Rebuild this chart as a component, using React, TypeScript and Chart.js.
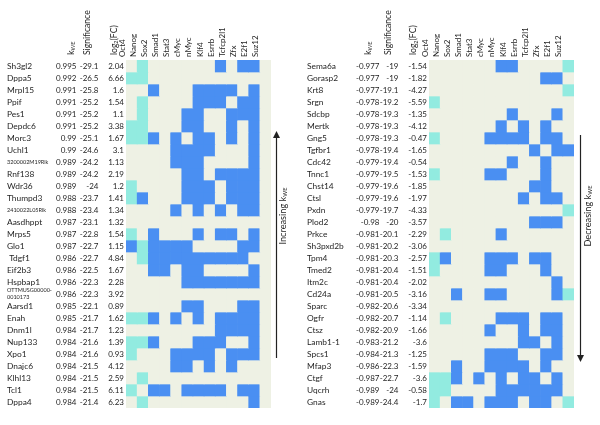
import React, { useEffect, useRef } from "react";
import { Chart, registerables } from "chart.js";

Chart.register(...registerables);

const TFS = ["Oct4", "Nanog", "Sox2", "Smad1", "Stat3", "cMyc", "nMyc", "Klf4", "Esrrb", "Tcfcp2l1", "Zfx", "E2f1", "Suz12"];

const leftGenes = ["Sh3gl2", "Dppa5", "Mrpl15", "Ppif", "Pes1", "Depdc6", "Morc3", "Uchl1", "3200002M19Rik", "Rnf138", "Wdr36", "Thumpd3", "2410022L05Rik", "Aasdhppt", "Mrps5", "Glo1", " Tdgf1", "Eif2b3", "Hspbap1", "OTTMUSG00000-0010173", "Aarsd1", "Enah", "Dnm1l", "Nup133", "Xpo1", "Dnajc6", "Klhl13", "Tcl1", "Dppa4"];
const leftK = [0.995, 0.992, 0.991, 0.991, 0.991, 0.991, 0.99, 0.99, 0.989, 0.989, 0.989, 0.988, 0.988, 0.987, 0.987, 0.987, 0.986, 0.986, 0.986, 0.986, 0.985, 0.985, 0.984, 0.984, 0.984, 0.984, 0.984, 0.984, 0.984];
const leftSig = [-29.1, -26.5, -25.8, -25.2, -25.2, -25.2, -25.1, -24.6, -24.2, -24.2, -24, -23.7, -23.4, -23.1, -22.8, -22.7, -22.7, -22.5, -22.3, -22.3, -22.1, -21.7, -21.7, -21.6, -21.6, -21.5, -21.5, -21.5, -21.4];
const leftFC = [2.04, 6.66, 1.6, 1.54, 1.1, 3.38, 1.67, 3.1, 1.13, 2.19, 1.2, 1.41, 1.34, 1.32, 1.54, 1.15, 4.84, 1.67, 2.28, 3.92, 0.89, 1.62, 1.23, 1.39, 0.93, 4.12, 2.59, 6.11, 6.23];
// B = blue, C = cyan, . = none ; columns follow TFS
const leftCells = [
  ".C......B.BB.",
  "CC...........",
  "..B...BBBB.B.",
  ".C....BBB.BB.",
  ".C...BB..BBB.",
  "CC...BB..B.B.",
  "CCB.B.BB.B.B.",
  "....BBBB...B.",
  "....BBB....B.",
  ".....BB.BBBB.",
  "C....BBB.BBB.",
  "CB...BBB.BBB.",
  "....B.B.B.BB.",
  ".............",
  "C.B...B.BB.B.",
  "BCBBBB....BB.",
  ".CBBBBBBBBB..",
  "..BB.BB....B.",
  ".....BBBBBBB.",
  ".............",
  ".....BB...BB.",
  "CCB.B.B.BBBB.",
  "........BBBB.",
  "CCB...BBB..B.",
  "C...BBBB.BBB.",
  "....BB.B.B...",
  ".C...........",
  "C.BB.BBBB.BB.",
  ".C.........B.",
];

const rightGenes = ["Sema6a", "Gorasp2", "Krt8", "Srgn", "Sdcbp", "Mertk", "Gng5", "Tgfbr1", "Cdc42", "Tnnc1", "Chst14", "Ctsl", "Pxdn", "Plod2", "Prkce", "Sh3pxd2b", "Tpm4", "Tmed2", "Itm2c", "Cd24a", "Sparc", "Ogfr", "Ctsz", "Lamb1-1", "Spcs1", "Mfap3", "Ctgf", "Uqcrh", "Gnas"];
const rightK = [-0.977, -0.977, -0.977, -0.978, -0.978, -0.978, -0.978, -0.978, -0.979, -0.979, -0.979, -0.979, -0.979, -0.98, -0.981, -0.981, -0.981, -0.981, -0.981, -0.981, -0.982, -0.982, -0.982, -0.983, -0.984, -0.986, -0.987, -0.989, -0.989];
const rightSig = [-19, -19, -19.1, -19.2, -19.3, -19.3, -19.3, -19.4, -19.4, -19.5, -19.6, -19.6, -19.7, -20, -20.1, -20.2, -20.3, -20.4, -20.4, -20.5, -20.6, -20.7, -20.9, -21.2, -21.3, -22.3, -22.7, -24, -24.4];
const rightFC = [-1.54, -1.82, -4.27, -5.59, -1.35, -4.12, -0.47, -1.65, -0.54, -1.53, -1.85, -1.97, -4.33, -3.57, -2.29, -3.06, -2.57, -1.51, -2.02, -3.16, -3.34, -1.14, -1.66, -3.6, -1.25, -1.59, -3.6, -0.58, -1.7];
const rightCells = [
  "......BB....C",
  "..........BB.",
  "............C",
  "C............",
  ".......B...B.",
  "......B.B.B..",
  "C....BBBB.BB.",
  ".........B.BB",
  ".......B..B..",
  "C....BB...B..",
  ".........BB..",
  "........B.BB.",
  "............C",
  ".........BBB.",
  ".C....B......",
  ".............",
  "CB...BBB.BB..",
  "C....BB...B..",
  "...........B.",
  "..B..BB....BC",
  ".............",
  ".C....BBB.BB.",
  ".....B..B.BB.",
  "........BB.B.",
  ".....BBB..BB.",
  "..B..BBBB.B..",
  "CCB.B.B.BB.B.",
  "CC....BBBBBB.",
  "C.BB.BBB.BB.C",
];

const COLORS: Record<string, string> = { ".": "#EEF1E4", B: "#4A8FF2", C: "#92EBE0" };
const FONT = "Lato, 'Liberation Sans', sans-serif";
const INK = "#1f1f1f";
const NUM_SIZE = 8;
const NAME_SIZE = 8.4;

type Part = [string, number, number];

function partsWidth(ctx: CanvasRenderingContext2D, parts: Part[]) {
  let w = 0;
  for (const [t, size] of parts) {
    ctx.font = `${size}px ${FONT}`;
    w += ctx.measureText(t).width;
  }
  return w;
}

function drawParts(ctx: CanvasRenderingContext2D, x: number, y: number, parts: Part[]) {
  ctx.save();
  ctx.translate(x, y);
  ctx.rotate(-Math.PI / 2);
  ctx.textAlign = "left";
  ctx.textBaseline = "middle";
  ctx.fillStyle = INK;
  let cx = 0;
  for (const [t, size, dy] of parts) {
    ctx.font = `${size}px ${FONT}`;
    ctx.fillText(t, cx, dy);
    cx += ctx.measureText(t).width;
  }
  ctx.restore();
}

type PanelCfg = {
  genes: string[];
  k: number[];
  sig: number[];
  fc: number[];
  cells: string[];
  padLeft: number;
  padRight: number;
  nameX: number;
  kX: number;
  sigX: number;
  fcX: number;
  hK: number;
  hSig: number;
  hFC: number;
  arrowX: number;
  arrowTop: number;
  arrowBottom: number;
  arrowUp: boolean;
  arrowText: string;
  arrowTextX: number;
};

const LEFT: PanelCfg = {
  genes: leftGenes, k: leftK, sig: leftSig, fc: leftFC, cells: leftCells,
  padLeft: 126, padRight: 29,
  nameX: 7, kX: 76.5, sigX: 98.5, fcX: 124,
  hK: 71, hSig: 87.5, hFC: 114,
  arrowX: 276.5, arrowTop: 131, arrowBottom: 358, arrowUp: true,
  arrowText: "Increasing k", arrowTextX: 283,
};

const RIGHT: PanelCfg = {
  genes: rightGenes, k: rightK, sig: rightSig, fc: rightFC, cells: rightCells,
  padLeft: 129, padRight: 26,
  nameX: 7, kX: 79.5, sigX: 98.5, fcX: 127,
  hK: 68, hSig: 88.5, hFC: 113.5,
  arrowX: 280.5, arrowTop: 135, arrowBottom: 362, arrowUp: false,
  arrowText: "Decreasing k", arrowTextX: 288,
};

function makePlugin(cfg: PanelCfg) {
  return {
    id: "tableText",
    afterDraw(chart: any) {
      const ctx: CanvasRenderingContext2D = chart.ctx;
      const ys = chart.scales.y;
      ctx.save();
      ctx.fillStyle = INK;
      ctx.textBaseline = "middle";
      cfg.genes.forEach((g, r) => {
        const yc = ys.getPixelForValue(r + 0.5);
        ctx.textAlign = "left";
        if (g.length > 15 && g.includes("-")) {
          const i = g.indexOf("-") + 1;
          ctx.font = `5.5px ${FONT}`;
          ctx.fillText(g.slice(0, i), cfg.nameX, yc - 3.3);
          ctx.fillText(g.slice(i), cfg.nameX, yc + 3.3);
        } else if (g.length >= 13) {
          ctx.font = `5.5px ${FONT}`;
          ctx.fillText(g, cfg.nameX, yc);
        } else {
          ctx.font = `${NAME_SIZE}px ${FONT}`;
          ctx.fillText(g, cfg.nameX, yc);
        }
        ctx.font = `${NUM_SIZE}px ${FONT}`;
        ctx.textAlign = "right";
        ctx.fillText(String(cfg.k[r]), cfg.kX, yc);
        ctx.fillText(String(cfg.sig[r]), cfg.sigX, yc);
        ctx.fillText(String(cfg.fc[r]), cfg.fcX, yc);
      });
      ctx.restore();

      const headBottom = 55;
      drawParts(ctx, cfg.hK, headBottom, [["k", 9, 0], ["WE", 5.5, 2.5]]);
      drawParts(ctx, cfg.hSig, headBottom, [["Significance", 8.6, 0]]);
      drawParts(ctx, cfg.hFC, headBottom, [["log", 8.6, 0], ["2", 5.5, 2.5], ["(FC)", 8.6, 0]]);

      ctx.save();
      ctx.strokeStyle = "#222";
      ctx.fillStyle = "#222";
      ctx.lineWidth = 1.2;
      ctx.beginPath();
      ctx.moveTo(cfg.arrowX, cfg.arrowTop + (cfg.arrowUp ? 4 : 0));
      ctx.lineTo(cfg.arrowX, cfg.arrowBottom - (cfg.arrowUp ? 0 : 4));
      ctx.stroke();
      ctx.beginPath();
      if (cfg.arrowUp) {
        ctx.moveTo(cfg.arrowX, cfg.arrowTop);
        ctx.lineTo(cfg.arrowX - 3.5, cfg.arrowTop + 7);
        ctx.lineTo(cfg.arrowX + 3.5, cfg.arrowTop + 7);
      } else {
        ctx.moveTo(cfg.arrowX, cfg.arrowBottom);
        ctx.lineTo(cfg.arrowX - 3.5, cfg.arrowBottom - 7);
        ctx.lineTo(cfg.arrowX + 3.5, cfg.arrowBottom - 7);
      }
      ctx.closePath();
      ctx.fill();
      ctx.restore();

      const parts: Part[] = [[cfg.arrowText, 9.2, 0], ["WE", 5.8, 2.5]];
      const w = partsWidth(ctx, parts);
      const mid = (ys.getPixelForValue(0) + ys.getPixelForValue(29)) / 2 - 18;
      drawParts(ctx, cfg.arrowTextX, mid + w / 2, parts);
    },
  };
}

function buildConfig(cfg: PanelCfg): any {
  return {
    type: "bar",
    data: {
      labels: TFS,
      datasets: cfg.cells.map((row, r) => ({
        label: cfg.genes[r],
        data: TFS.map(() => 1),
        backgroundColor: row.split("").map((c) => COLORS[c]),
        borderWidth: 0,
        barPercentage: 1,
        categoryPercentage: 1,
      })),
    },
    options: {
      responsive: false,
      animation: false,
      events: [],
      layout: { padding: { left: cfg.padLeft, right: cfg.padRight, top: 0, bottom: 17 } },
      plugins: { legend: { display: false }, tooltip: { enabled: false } },
      scales: {
        x: {
          position: "top",
          stacked: true,
          grid: { display: false, drawTicks: false },
          border: { display: false },
          ticks: {
            minRotation: 90,
            maxRotation: 90,
            autoSkip: false,
            padding: 3,
            color: INK,
            font: { family: FONT, size: 8 },
          },
          afterFit: (s: any) => {
            s.height = 60;
          },
        },
        y: { display: false, stacked: true, reverse: true, min: 0, max: 29 },
      },
    },
    plugins: [makePlugin(cfg)],
  };
}

function Panel({ cfg, left }: { cfg: PanelCfg; left: number }) {
  const ref = useRef<HTMLCanvasElement | null>(null);
  useEffect(() => {
    const chart = new Chart(ref.current as HTMLCanvasElement, buildConfig(cfg));
    return () => chart.destroy();
  }, []);
  return (
    <canvas
      ref={ref}
      width={300}
      height={425}
      style={{ position: "absolute", left, top: 0, width: 300, height: 425 }}
    />
  );
}

export default function App() {
  return (
    <div style={{ position: "absolute", left: 0, top: 0, width: 600, height: 425, background: "#fff" }}>
      <Panel cfg={LEFT} left={0} />
      <Panel cfg={RIGHT} left={300} />
    </div>
  );
}
